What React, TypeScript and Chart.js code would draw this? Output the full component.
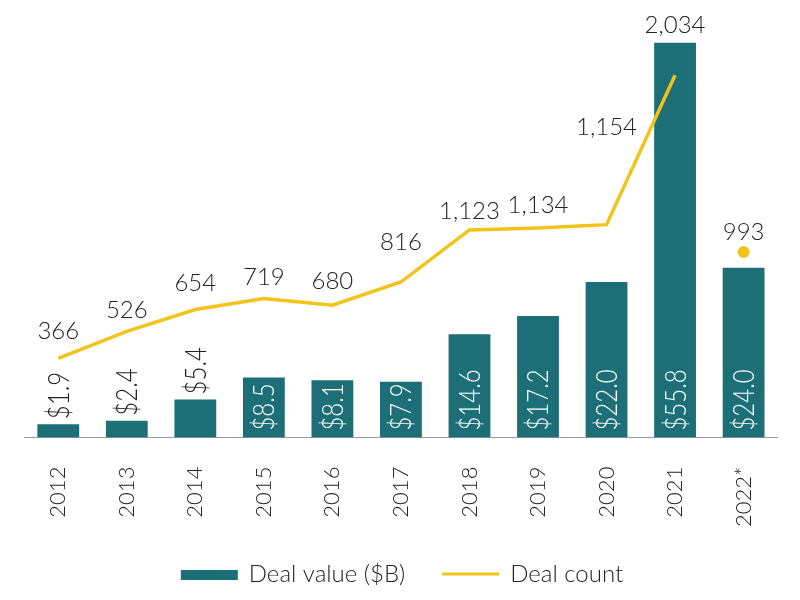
import React, { useEffect, useRef } from "react";
import { Chart, registerables } from "chart.js";

Chart.register(...registerables);

const years = ["2012", "2013", "2014", "2015", "2016", "2017", "2018", "2019", "2020", "2021", "2022*"];
const dealValue = [1.9, 2.4, 5.4, 8.5, 8.1, 7.9, 14.6, 17.2, 22.0, 55.8, 24.0];
const dealCount = [366, 526, 654, 719, 680, 816, 1123, 1134, 1154, 2034, null];
const dealCount2022 = [null, null, null, null, null, null, null, null, null, null, 993];
const countLabelLift = [27, 21, 26, 21, 24, 40, 19, 23, 97, 50, 20];

const TEAL = "#1c6e77";
const YELLOW = "#f0c419";
const TEXT = "#222222";
const FONT = "Lato, 'Open Sans', sans-serif";
const WEIGHT = "300";

const labelPlugin = {
  id: "customLabels",
  afterDatasetsDraw(chart: any) {
    const ctx = chart.ctx;
    ctx.save();
    ctx.font = `${WEIGHT} 24px ${FONT}`;
    // bar labels
    const barMeta = chart.getDatasetMeta(0);
    barMeta.data.forEach((bar: any, i: number) => {
      const v = dealValue[i];
      const txt = "$" + v.toFixed(1);
      const w = ctx.measureText(txt).width;
      const h = bar.base - bar.y;
      ctx.save();
      let y;
      if (h > w + 2) {
        ctx.fillStyle = "#ffffff";
        y = bar.base - 7;
      } else {
        ctx.fillStyle = TEXT;
        y = bar.y - 5;
      }
      ctx.translate(bar.x, y);
      ctx.rotate(-Math.PI / 2);
      ctx.scale(1, 1.2);
      ctx.textAlign = "left";
      ctx.textBaseline = "middle";
      ctx.fillText(txt, 0, 1);
      ctx.restore();
    });
    // line labels
    ctx.fillStyle = TEXT;
    ctx.textAlign = "center";
    ctx.textBaseline = "middle";
    const fmt = (n: number) => n.toLocaleString("en-US");
    [1, 2].forEach((di) => {
      const meta = chart.getDatasetMeta(di);
      const data = chart.data.datasets[di].data;
      meta.data.forEach((pt: any, i: number) => {
        const v = data[i];
        if (v == null) return;
        ctx.fillText(fmt(v), pt.x, pt.y - countLabelLift[i]);
      });
    });
    ctx.restore();
  },
};

// Bottom legend drawn on the canvas (space reserved by layout padding)
const legendPlugin = {
  id: "bottomLegend",
  afterDraw(chart: any) {
    const ctx = chart.ctx;
    ctx.save();
    ctx.font = `${WEIGHT} 24px ${FONT}`;
    const swatchW = 57;
    const textGap = 11;
    const itemGap = 37;
    const items = [0, 1].map((di) => {
      const ds = chart.data.datasets[di];
      return { ds, text: ds.label, w: ctx.measureText(ds.label).width };
    });
    const total = items.reduce((s, it) => s + swatchW + textGap + it.w, 0) + itemGap * (items.length - 1);
    let x = chart.width / 2 - total / 2 + 2;
    const y = chart.height - 26;
    items.forEach((it, idx) => {
      if (it.ds.type === "bar") {
        ctx.fillStyle = it.ds.backgroundColor;
        ctx.fillRect(x, y - 4, swatchW, 10);
      } else {
        ctx.strokeStyle = it.ds.borderColor;
        ctx.lineWidth = 3;
        ctx.beginPath();
        ctx.moveTo(x, y);
        ctx.lineTo(x + swatchW, y);
        ctx.stroke();
      }
      x += swatchW + textGap;
      ctx.fillStyle = TEXT;
      ctx.textAlign = "left";
      ctx.textBaseline = "middle";
      ctx.fillText(it.text, x, y);
      x += it.w + (idx < items.length - 1 ? itemGap : 0);
    });
    ctx.restore();
  },
};

export default function App() {
  const ref = useRef<HTMLCanvasElement>(null);
  useEffect(() => {
    const chart = new Chart(ref.current!, {
      type: "bar",
      data: {
        labels: years,
        datasets: [
          {
            type: "bar",
            label: "Deal value ($B)",
            data: dealValue,
            backgroundColor: TEAL,
            borderWidth: 0,
            categoryPercentage: 1,
            barPercentage: 0.61,
            yAxisID: "y",
            order: 2,
          } as any,
          {
            type: "line",
            label: "Deal count",
            data: dealCount,
            borderColor: YELLOW,
            backgroundColor: YELLOW,
            borderWidth: 3.5,
            pointRadius: 0,
            tension: 0,
            spanGaps: false,
            yAxisID: "y2",
            order: 0,
          } as any,
          {
            type: "line",
            label: "2022",
            data: dealCount2022,
            borderColor: YELLOW,
            backgroundColor: YELLOW,
            pointRadius: 6,
            pointBorderWidth: 0,
            showLine: false,
            yAxisID: "y2",
            order: 1,
          } as any,
        ],
      },
      options: {
        animation: false,
        responsive: false,
        layout: { padding: { left: 24, right: 22, top: 13, bottom: 44 } },
        scales: {
          x: {
            grid: { display: false, drawTicks: false },
            border: { display: true, color: "#9a9a9a", width: 1 },
            ticks: {
              color: TEXT,
              font: { family: FONT, size: 22, weight: WEIGHT as any },
              minRotation: 90,
              maxRotation: 90,
              padding: 29,
            },
          },
          y: {
            display: false,
            min: 0,
            max: 60,
          },
          y2: {
            display: false,
            min: -100,
            max: 2400,
          },
        },
        plugins: {
          tooltip: { enabled: false },
          legend: { display: false },
        },
      },
      plugins: [labelPlugin, legendPlugin],
    });
    return () => chart.destroy();
  }, []);
  return (
    <div style={{ position: "absolute", left: 0, top: 0, width: 800, height: 600, background: "#fff" }}>
      <canvas ref={ref} width={800} height={600} />
    </div>
  );
}
